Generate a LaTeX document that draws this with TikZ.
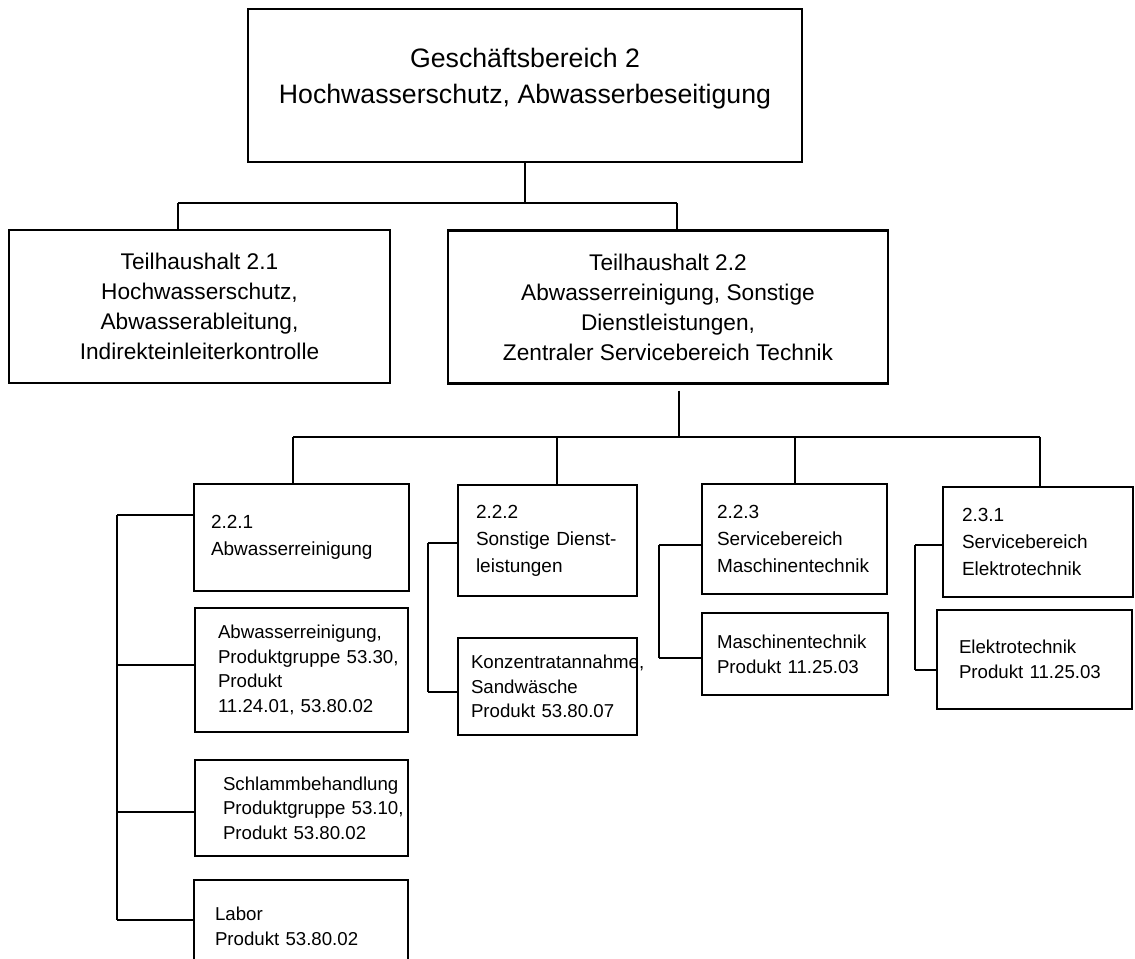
\documentclass[tikz,border=0pt]{standalone}
\usepackage{fontspec}
\setmainfont{Liberation Sans}
\usepackage{tikz}
\hyphenpenalty=10000
\exhyphenpenalty=10000

\begin{document}
\begin{tikzpicture}[
  x=0.75pt, y=-0.75pt,
  topbox/.style={rectangle, draw, line width=2.2pt, minimum width=415.5pt, minimum height=114.75pt, align=center, font=\fontsize{20}{27}\selectfont},
  thbox/.style={rectangle, draw, line width=1.8pt, minimum height=114.5pt, align=center, font=\fontsize{17}{22.5}\selectfont},
  unitbox/.style={rectangle, draw, line width=0.9pt, align=left, font=\fontsize{14.25}{20.25}\selectfont},
  prodbox/.style={rectangle, draw, line width=0.9pt, align=left, font=\fontsize{14}{18.5}\selectfont},
  link/.style={draw, line width=0.8pt}
]
\useasboundingbox (0,0) rectangle (1135,959);
\clip (0,0) rectangle (1135,959);

% Level 1 - Geschaeftsbereich
\node[topbox, text depth=14pt] (top) at (525,85.5) {Geschäftsbereich 2\\Hochwasserschutz, Abwasserbeseitigung};

% Level 2 - Teilhaushalte
\node[thbox, minimum width=285.75pt] (th21) at (199.5,306.5) {Teilhaushalt 2.1\\Hochwasserschutz,\\Abwasserableitung,\\Indirekteinleiterkontrolle};
\node[thbox, minimum width=330pt] (th22) at (668,307) {Teilhaushalt 2.2\\Abwasserreinigung, Sonstige\\Dienstleistungen,\\Zentraler Servicebereich Technik};

% Level 3 - Bereiche
\node[unitbox, text width=135.75pt, inner xsep=12.75pt, minimum height=80.25pt] (b221) at (301.5,537.5) {2.2.1\\Abwasserreinigung};
\node[unitbox, text width=107.25pt, inner xsep=13.5pt, minimum height=83.25pt] (b222) at (547.5,540.5) {2.2.2\\\mbox{Sonstige Dienst-}\\leistungen};
\node[unitbox, text width=116.25pt, inner xsep=11.25pt, minimum height=82.5pt] (b223) at (794.5,539) {2.2.3\\Servicebereich\\Maschinentechnik};
\node[unitbox, text width=114pt, inner xsep=14.25pt, minimum height=82.5pt] (b231) at (1038,542) {2.3.1\\Servicebereich\\Elektrotechnik};

% Level 4 - Produkte
\node[prodbox, text width=125.25pt, inner xsep=17.25pt, minimum height=93pt] (p1) at (301.5,670) {Abwasserreinigung,\\Produktgruppe~53.30,\\Produkt\\11.24.01,~53.80.02};
\node[prodbox, text width=117.75pt, inner xsep=21pt, minimum height=72pt] (p2) at (301.5,808) {Schlammbehandlung\\Produktgruppe~53.10,\\Produkt~53.80.02};
\node[prodbox, text width=129pt, inner xsep=15.75pt, minimum height=69pt] (p3) at (301,926) {Labor\\Produkt~53.80.02};
\node[prodbox, text width=114.75pt, inner xsep=9.75pt, minimum height=72.75pt] (p4) at (547.5,686.5) {Konzentratannahme,\\Sandwäsche\\Produkt~53.80.07};
\node[prodbox, text width=117pt, inner xsep=11.25pt, minimum height=61.5pt] (p5) at (795,654) {Maschinentechnik\\Produkt~11.25.03};
\node[prodbox, text width=113.25pt, inner xsep=16.5pt, minimum height=74.25pt] (p6) at (1034.5,659.5) {Elektrotechnik\\Produkt~11.25.03};

% Connectors level 1 -> 2
\coordinate (bus1L) at (178,203);
\coordinate (bus1R) at (677,203);
\draw[link] (top.south) -- (top.south |- bus1L);
\draw[link] (bus1L) -- (bus1R);
\draw[link] (bus1L) -- (th21.north -| bus1L);
\draw[link] (bus1R) -- (th22.north -| bus1R);

% Connectors level 2 -> 3
\coordinate (bus2L) at (293,437);
\coordinate (bus2R) at (1040,437);
\draw[link] (th22.south -| 679,0) ++(0,6) -- (679,437);
\draw[link] (bus2L) -- (bus2R);
\foreach \n/\x in {b221/293, b222/557, b223/795, b231/1040}
  \draw[link] (\x,437) -- (\n.north -| \x,437);

% Brackets level 3 -> 4
\foreach \n/\y in {b221/515, p1/665, p2/812, p3/920}
  \draw[link] (\n.west |- 0,\y) -- (117,\y);
\draw[link] (117,515) -- (117,920);

\foreach \n/\y in {b222/543, p4/692}
  \draw[link] (\n.west |- 0,\y) -- (428,\y);
\draw[link] (428,543) -- (428,692);

\foreach \n/\y in {b223/545, p5/658}
  \draw[link] (\n.west |- 0,\y) -- (659,\y);
\draw[link] (659,545) -- (659,658);

\foreach \n/\y in {b231/545, p6/670}
  \draw[link] (\n.west |- 0,\y) -- (915,\y);
\draw[link] (915,545) -- (915,670);

\end{tikzpicture}
\end{document}
